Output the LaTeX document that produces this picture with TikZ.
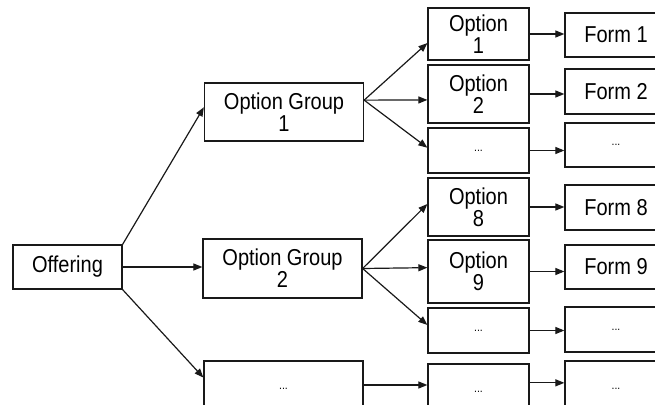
\documentclass[tikz,border=0pt]{standalone}
\usepackage{fontspec}
\setmainfont{Liberation Sans}[FakeStretch=0.87]
\usetikzlibrary{arrows.meta,calc}
\begin{document}
\begin{tikzpicture}[x=1pt,y=-1pt,
  box/.style={draw=black!90, line width=1.25pt, inner sep=0pt, align=center,
              font=\fontsize{23}{22}\selectfont},
  ellip/.style={font=\fontsize{12}{12}\selectfont},
  grp/.style={box, minimum width=159pt},
  opt/.style={box, minimum width=101pt},
  frm/.style={box, minimum width=102pt},
  link/.style={draw=black!90, line width=1.2pt, -{Triangle[length=9pt,width=7pt]}}]
\useasboundingbox (0,0) rectangle (655,404);
\clip (0,0) rectangle (655,404);

% root
\node[box, minimum width=109pt, minimum height=44pt] (off) at (67.5,267) {Offering};

% option groups
\node[grp, minimum height=58pt] (og1) at (284,112)   {Option Group\\1};
\node[grp, minimum height=59pt] (og2) at (282.5,268.5) {Option Group\\2};
\node[grp, ellip, minimum height=56pt] (ogb) at (283.5,389) {...};

% options
\node[opt, minimum height=52pt] (o1)  at (478.5,34)    {Option\\1};
\node[opt, minimum height=58pt] (o2)  at (478.5,94)    {Option\\2};
\node[opt, ellip, minimum height=45pt] (o3)  at (478.5,150.5) {...};
\node[opt, minimum height=58pt] (o8)  at (478.5,207)   {Option\\8};
\node[opt, minimum height=63pt] (o9)  at (478.5,271.5) {Option\\9};
\node[opt, ellip, minimum height=45pt] (o10) at (478.5,330.5) {...};
\node[opt, ellip, minimum height=56pt] (ob)  at (478.5,392)   {...};

% forms
\node[frm, minimum height=44pt] (f1)  at (616,35)    {Form 1};
\node[frm, minimum height=45pt] (f2)  at (616,91.5)  {Form 2};
\node[frm, ellip, minimum height=44pt] (f3)  at (616,145)   {...};
\node[frm, minimum height=45pt] (f8)  at (616,207.5) {Form 8};
\node[frm, minimum height=44pt] (f9)  at (616,267)   {Form 9};
\node[frm, ellip, minimum height=45pt] (f10) at (616,329.5) {...};
\node[frm, ellip, minimum height=56pt] (fb)  at (616,389)   {...};

% offering to groups
\draw[link] (off.north east) -- ($(og1.north west)!0.42!(og1.south west)$);
\draw[link] (off.east) -- (off.east -| og2.west);
\draw[link] (off.south east) -- ($(ogb.north west)!0.3!(ogb.south west)$);

% group 1 fan
\coordinate (g1) at ($(og1.north east)!0.3!(og1.south east)$);
\draw[link] (g1) -- ($(o1.north west)!0.67!(o1.south west)$);
\draw[link] (g1) -- ($(o2.north west)!0.6!(o2.south west)$);
\draw[link] (g1) -- ($(o3.north west)!0.44!(o3.south west)$);

% group 2 fan
\draw[link] (og2.east) -- ($(o8.north west)!0.45!(o8.south west)$);
\draw[link] (og2.east) -- ($(o9.north west)!0.44!(o9.south west)$);
\draw[link] (og2.east) -- ($(o10.north west)!0.38!(o10.south west)$);

% last group
\coordinate (gb) at ($(ogb.north east)!0.43!(ogb.south east)$);
\draw[link] (gb) -- (gb -| ob.west);

% options to forms
\draw[link] (o1.east) -- (o1.east -| f1.west);
\draw[link] (o2.east) -- (o2.east -| f2.west);
\draw[link] (o3.east) -- (o3.east -| f3.west);
\draw[link] (o8.east) -- (o8.east -| f8.west);
\draw[link] (o9.east) -- (o9.east -| f9.west);
\draw[link] (o10.east) -- (o10.east -| f10.west);
\coordinate (obr) at ($(ob.north east)!0.34!(ob.south east)$);
\draw[link] (obr) -- (obr -| fb.west);
\end{tikzpicture}
\end{document}
